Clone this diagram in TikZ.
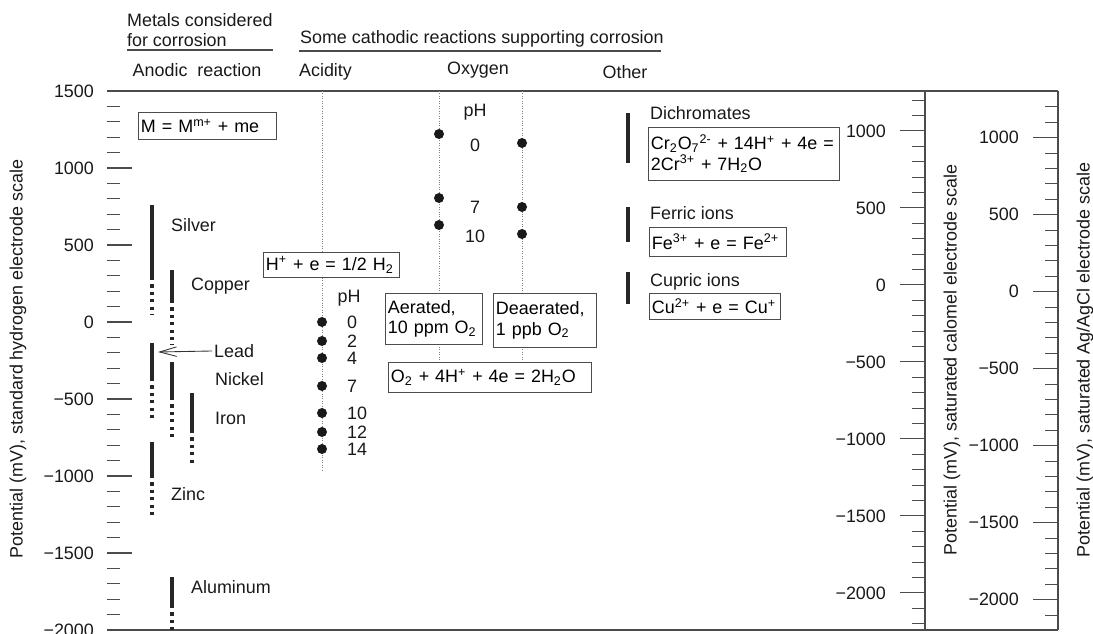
\documentclass[tikz,border=0pt]{standalone}
\usepackage{fontspec}
\setmainfont{Liberation Sans}
\usetikzlibrary{arrows.meta}
\begin{document}
\begin{tikzpicture}[x=0.02cm,y=-0.02cm,
    font=\fontsize{10.2}{11.5}\selectfont,
    lab/.style={inner sep=1pt,text=black!90},
    tick/.style={black!70,line width=0.6pt},
    axis/.style={black!70,line width=0.8pt},
    guide/.style={black!50,densely dotted,line width=0.4pt},
    bar/.style={black!85,line width=2pt},
    dbar/.style={black!85,line width=2pt,dash pattern=on 1.9pt off 2.3pt},
    eq/.style={draw=black!70,fill=white,anchor=north west,align=left,
      inner xsep=1.5pt,inner ysep=1pt,text width=#1},
    ttl/.style={rotate=90,inner sep=0pt,text=black!90},
    dot/.style={black!90}]
  \useasboundingbox (0,0) rectangle (1093,634);
  % headings
  \node[lab,anchor=west,align=left] (metals) at (125,30) {Metals considered\\for corrosion};
  \draw[axis] (127,50) -- (273,50);
  \node[lab] (anodic) at (197,70) {Anodic~~reaction};
  \node[lab,anchor=west] (cathodic) at (298,39) {Some cathodic reactions supporting corrosion};
  \draw[axis] (299,51) -- (661,51);
  \node[lab,anchor=west] (acidity) at (297,72) {Acidity};
  \node[lab] (oxygen) at (478,70) {Oxygen};
  \node[lab] (other) at (625,72) {Other};
  % frame lines and scales
  \draw[axis] (107,91) -- (1058,91);
  \draw[axis] (107,630) -- (1058,630);
  \draw[axis] (925,91) -- (925,630);
  \draw[axis] (1058,91) -- (1058,630);
  \foreach \v in {-1900,-1800,...,1400} \draw[tick] (107,{322-0.154*\v}) -- ++(13,0);
  \foreach \v/\t in {1000/1000,500/500,0/0,-500/−500,-1000/−1000,-1500/−1500}
    \draw[tick] (107,{322-0.154*\v}) -- ++(25,0);
  \foreach \v/\t in {1500/1500,1000/1000,500/500,0/0,-500/−500,-1000/−1000,-1500/−1500,-2000/−2000}
    \node[lab,anchor=east] (she\v) at (96,{322-0.154*\v}) {\t};
  \foreach \v in {-2200,-2100,...,1200} \draw[tick] (925,{284.9-0.154*\v}) -- ++(-13,0);
  \foreach \v/\t in {1000/1000,500/500,0/0,-500/−500,-1000/−1000,-1500/−1500,-2000/−2000} {
    \draw[tick] (925,{284.9-0.154*\v}) -- ++(-25,0);
    \node[lab,anchor=east] (sce\v) at (888,{284.9-0.154*\v}) {\t};
  }
  \foreach \v in {-2100,-2000,...,1300} \draw[tick] (1058,{291.7-0.154*\v}) -- ++(-13,0);
  \foreach \v/\t in {1000/1000,500/500,0/0,-500/−500,-1000/−1000,-1500/−1500,-2000/−2000} {
    \draw[tick] (1058,{291.7-0.154*\v}) -- ++(-25,0);
    \node[lab,anchor=east] (agcl\v) at (1021,{291.7-0.154*\v}) {\t};
  }
  \node[ttl] (sheaxis) at (18,359) {Potential (mV), standard hydrogen electrode scale};
  \node[ttl] (sceaxis) at (952,360) {Potential (mV), saturated calomel electrode scale};
  \node[ttl] (agclaxis) at (1085,360) {Potential (mV), saturated Ag/AgCl electrode scale};
  % anodic reactions
  \node[eq=2.65cm,minimum height=0.54cm] (anode) at (138,112) {M = M\textsuperscript{m+} + me};
  \foreach \x/\a/\b/\c in {152/205/277/315,172/270/300/345,152/343/378/418,
      172/362/397/440,192/393/430/463,152/442/475/517,172/577/605/630} {
    \draw[bar] (\x,\a) -- (\x,\b);
    \draw[dbar] (\x,\b) -- (\x,\c);
  }
  \node[lab,anchor=west] (silver) at (169,225) {Silver};
  \node[lab,anchor=west] (copper) at (189,286) {Copper};
  \node[lab,anchor=west] (lead) at (212,351) {Lead};
  \node[lab,anchor=west] (nickel) at (213,379) {Nickel};
  \node[lab,anchor=west] (iron) at (213,418) {Iron};
  \node[lab,anchor=west] (zinc) at (169,494) {Zinc};
  \node[lab,anchor=west] (aluminum) at (189,587) {Aluminum};
  \coordinate (leadbar) at (158,352);
  \draw[black!80,line width=0.5pt,-{Straight Barb[length=0.34cm,width=0.19cm]}] (lead.west) -- (leadbar);
  % acidity
  \draw[guide] (322,91) -- (322,472);
  \node[eq=2.61cm,minimum height=0.5cm] (hydrogen) at (263,252)
    {H\textsuperscript{+} + e = 1/2 H\textsubscript{2}};
  \node[lab] (acidph) at (349,298) {pH};
  \foreach \y/\p in {322/0,341/2,358/4,386/7,413/10,432/12,449/14} {
    \fill[dot] (322,\y) circle (0.1cm);
    \node[lab,anchor=west] (acid\p) at (345,\y) {\p};
  }
  % oxygen
  \draw[guide] (439,91) -- (439,362);
  \draw[guide] (522,91) -- (522,362);
  \node[eq=1.83cm,minimum height=1.02cm] (aerated) at (385,293) {Aerated,\\10 ppm O\textsubscript{2}};
  \node[eq=1.95cm,minimum height=1.08cm] (deaerated) at (493,293) {Deaerated,\\1 ppb O\textsubscript{2}};
  \node[eq=3.95cm,minimum height=0.6cm] (oxred) at (388,362)
    {O\textsubscript{2} + 4H\textsuperscript{+} + 4e = 2H\textsubscript{2}O};
  \node[lab] (oxph) at (475,112) {pH};
  \foreach \a/\d/\l/\p in {134/143/145/0,198/207/207/7,225/234/236/10} {
    \fill[dot] (439,\a) circle (0.1cm);
    \fill[dot] (522,\d) circle (0.1cm);
    \node[lab] (ox\p) at (475,\l) {\p};
  }
  % other
  \foreach \a/\b in {113/163,207/242,272/304} \draw[bar] (628,\a) -- (628,\b);
  \node[lab,anchor=west] (dichro) at (648,113) {Dichromates};
  \node[eq=3.71cm,minimum height=1.06cm] (dichroeq) at (648,127)
    {Cr\textsubscript{2}O\textsubscript{7}\textsuperscript{2-} + 14H\textsuperscript{+} + 4e =\\2Cr\textsuperscript{3+} + 7H\textsubscript{2}O};
  \node[lab,anchor=west] (ferric) at (648,213) {Ferric ions};
  \node[eq=2.63cm,minimum height=0.58cm] (ferriceq) at (649,227)
    {Fe\textsuperscript{3+} + e = Fe\textsuperscript{2+}};
  \node[lab,anchor=west] (cupric) at (648,282) {Cupric ions};
  \node[eq=2.51cm,minimum height=0.52cm] (cupriceq) at (649,293)
    {Cu\textsuperscript{2+} + e = Cu\textsuperscript{+}};
\end{tikzpicture}
\end{document}
